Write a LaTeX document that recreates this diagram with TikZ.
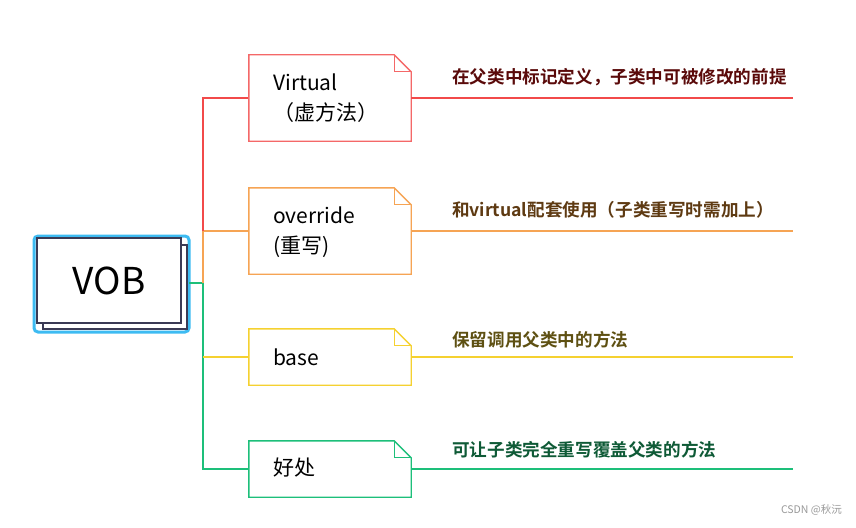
\documentclass[tikz,border=0pt]{standalone}
\usepackage{fontspec}
\setmainfont{Noto Sans CJK SC}
\newfontfamily\cjkb{Noto Sans CJK SC Bold}
\definecolor{cred}{HTML}{F24A4A}
\definecolor{credb}{HTML}{F46868}
\definecolor{corange}{HTML}{F6A454}
\definecolor{cyellow}{HTML}{F5D130}
\definecolor{cgreen}{HTML}{1DBF7A}
\definecolor{cblue}{HTML}{3DBBF2}
\definecolor{cdark}{HTML}{3A3A55}
\definecolor{tred}{HTML}{5A0A0A}
\definecolor{tbrown}{HTML}{5E3A12}
\definecolor{tolive}{HTML}{5E5012}
\definecolor{tgreen}{HTML}{0E5A36}
\tikzset{
  notebox/.style={minimum width=162pt,inner sep=0pt,draw=none},
  conn/.style={line width=1.2pt},
  boxtext/.style={anchor=west,inner sep=0pt,text=black,font=\fontsize{21}{30}\selectfont,align=left},
  label/.style={anchor=west,inner sep=0pt,font=\cjkb\fontsize{17.6}{20}\selectfont},
}
\newcommand{\notepath}[2]{%
  \draw[#1,line width=1.4pt,fill=white,line join=miter]
    (#2.south west) -- (#2.north west) -- ([xshift=-17pt]#2.north east)
    -- ([yshift=-17pt]#2.north east) -- (#2.south east) -- cycle;
  \draw[#1,line width=1.2pt] ([xshift=-17pt]#2.north east) |- ([yshift=-17pt]#2.north east);}
\begin{document}
\begin{tikzpicture}[x=1pt,y=-1pt]
\useasboundingbox[fill=white] (0,0) rectangle (856,527);
% VOB
\draw[cblue,line width=3pt,rounded corners=4pt] (34,236) rectangle (189,332);
\node[draw=cdark,fill=white,line width=1.4pt,minimum width=144pt,minimum height=84pt,inner sep=0pt] (vobsh) at (115,287) {};
\node[draw=cdark,fill=white,line width=1.4pt,minimum width=144pt,minimum height=85pt,inner sep=0pt,text=black,font=\fontsize{37}{40}\selectfont] (vob) at (109,280.5) {VOB};
\coordinate (vobr) at (189,283);
\coordinate (j) at (203,283);
% note boxes
\node[notebox,minimum height=86pt] (n1) at (330,98) {};
\node[notebox,minimum height=86pt] (n2) at (330,231) {};
\node[notebox,minimum height=56pt] (n3) at (330,357) {};
\node[notebox,minimum height=56pt] (n4) at (330,469) {};
\coordinate (v1) at (203,98);
\coordinate (v2) at (203,231);
\coordinate (v3) at (203,357);
\coordinate (v4) at (203,469);
% connectors
\draw[conn,cgreen] (vobr) -- (j);
\draw[conn,cgreen] (j) -- (v4) -- (n4.west);
\draw[conn,cyellow] (v3) -- (n3.west);
\draw[conn,corange] (j) -- (v2) -- (n2.west);
\draw[conn,cred] (v2) -- (v1) -- (n1.west);
\notepath{credb}{n1}
\notepath{corange}{n2}
\notepath{cyellow}{n3}
\notepath{cgreen}{n4}
% texts in boxes
\node[boxtext] (t1) at (273,98) {Virtual\\（虚方法）};
\node[boxtext] (t2) at (273,232) {override\\(重写)};
\node[boxtext] (t3) at (273,357) {base};
\node[boxtext] (t4) at (273,468) {好处};
% right lines
\coordinate (e1) at (793,98);
\coordinate (e2) at (793,231);
\coordinate (e3) at (793,357);
\coordinate (e4) at (793,469);
\draw[conn,cred] (n1.east) -- (e1);
\draw[conn,corange] (n2.east) -- (e2);
\draw[conn,cyellow] (n3.east) -- (e3);
\draw[conn,cgreen] (n4.east) -- (e4);
% labels
\node[label,text=tred] (l1) at (452,77) {在父类中标记定义，子类中可被修改的前提};
\node[label,text=tbrown] (l2) at (452,210) {和virtual配套使用（子类重写时需加上）};
\node[label,text=tolive] (l3) at (452,340) {保留调用父类中的方法};
\node[label,text=tgreen] (l4) at (452,450) {可让子类完全重写覆盖父类的方法};
\node[anchor=east,inner sep=0pt,text=gray!80,font=\fontsize{10.5}{12}\selectfont] (wm) at (842,510) {CSDN @秋沅};
\end{tikzpicture}
\end{document}
